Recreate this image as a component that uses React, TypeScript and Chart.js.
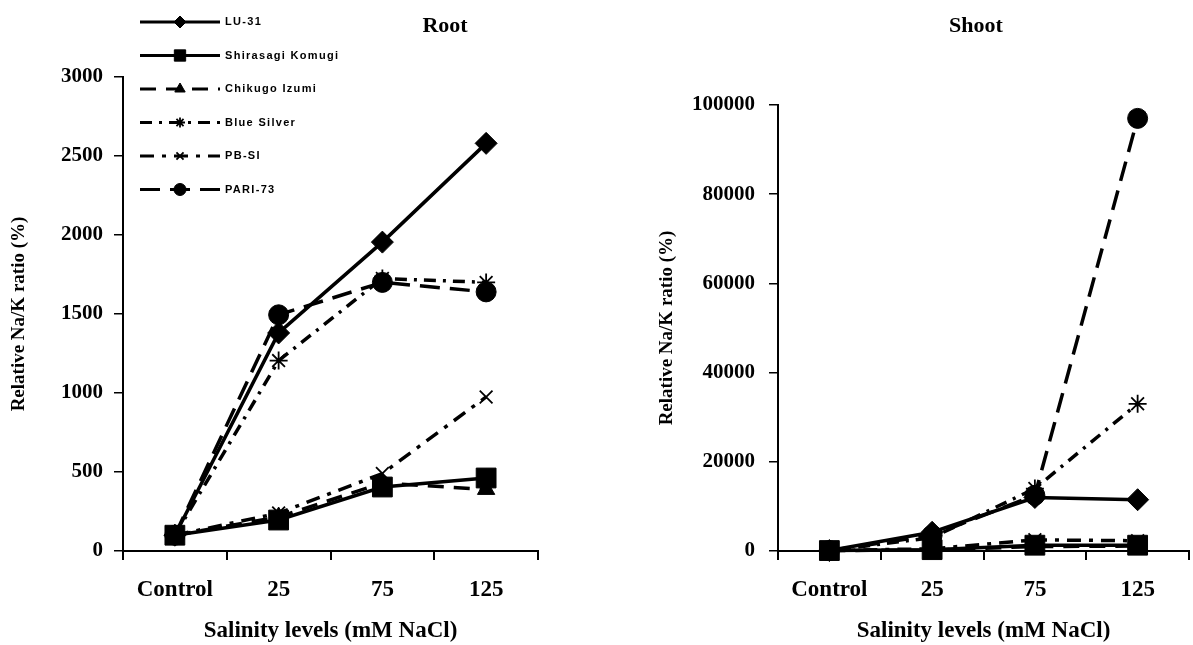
import React, { useEffect, useRef } from 'react';
import { Chart, registerables } from 'chart.js';
import { drawPoint } from 'chart.js/helpers';

Chart.register(...registerables);

// ---------- data ----------
const categories = ['Control', '25', '75', '125'];
const seriesNames = ['LU-31', 'Shirasagi Komugi', 'Chikugo Izumi', 'Blue Silver', 'PB-SI', 'PARI-73'];

const rootLU31 = [100, 1380, 1955, 2580];
const rootShirasagi = [100, 196, 405, 462];
const rootChikugo = [100, 215, 430, 390];
const rootBlueSilver = [100, 1205, 1725, 1700];
const rootPBSI = [100, 240, 490, 975];
const rootPARI73 = [100, 1495, 1700, 1640];

const shootLU31 = [100, 4200, 12000, 11500];
const shootShirasagi = [100, 300, 1300, 1300];
const shootChikugo = [100, 200, 1000, 1100];
const shootBlueSilver = [100, 3000, 14000, 33000];
const shootPBSI = [100, 500, 2500, 2300];
const shootPARI73 = [100, 3500, 12500, 97000];

const rootMax = 3000;
const rootStep = 500;
const shootMax = 100000;
const shootStep = 20000;

const xTitle = 'Salinity levels (mM NaCl)';
const yTitle = 'Relative Na/K ratio (%)';

// ---------- styles ----------
const pointStyles = ['rectRot', 'rect', 'triangle', 'star', 'crossRot', 'circle'];
const pointRadii = [11, 14, 10, 9, 9, 10];
const legendRadii = [6, 8, 6, 5, 5, 6];
const pointBorderWidths = [1, 1, 1, 1.8, 1.8, 1];
const dashes: number[][] = [[], [], [16, 10], [12, 7, 3, 7], [14, 8, 4, 8], [20, 10]];

const SERIF = '"Liberation Serif", "Times New Roman", serif';

function buildDatasets(values: number[][]) {
  return values.map((v, i) => ({
    label: seriesNames[i],
    data: v,
    borderColor: '#000',
    backgroundColor: '#000',
    borderWidth: 3.5,
    borderDash: dashes[i],
    pointStyle: pointStyles[i],
    pointRadius: pointRadii[i],
    pointBackgroundColor: '#000',
    pointBorderColor: '#000',
    pointBorderWidth: pointBorderWidths[i],
    tension: 0,
    fill: false,
    clip: false as any,
  }));
}

const legendPlugin = {
  id: 'sideLegend',
  afterDraw(chart: any) {
    const ctx: CanvasRenderingContext2D = chart.ctx;
    const x0 = 140;
    const x1 = 220;
    const y0 = 22;
    const dy = 33.5;
    seriesNames.forEach((name, i) => {
      const y = y0 + i * dy;
      ctx.save();
      ctx.strokeStyle = '#000';
      ctx.fillStyle = '#000';
      ctx.lineWidth = 3;
      ctx.setLineDash(dashes[i]);
      ctx.beginPath();
      ctx.moveTo(x0, y);
      ctx.lineTo(x1, y);
      ctx.stroke();
      ctx.setLineDash([]);
      ctx.lineWidth = pointBorderWidths[i];
      drawPoint(ctx, { pointStyle: pointStyles[i], radius: legendRadii[i], rotation: 0, borderWidth: pointBorderWidths[i] } as any, (x0 + x1) / 2, y);
      ctx.font = 'bold 11px "Liberation Sans", Arial, sans-serif';
      (ctx as any).letterSpacing = '1.3px';
      ctx.textBaseline = 'middle';
      ctx.textAlign = 'left';
      ctx.fillText(name, 225, y);
      ctx.restore();
    });
  },
};

type PanelProps = {
  values: number[][];
  max: number;
  step: number;
  width: number;
  padLeft: number;
  padTop: number;
  padRight: number;
  yWidth: number;
  yTickPad: number;
  legend: boolean;
};

function Panel(p: PanelProps) {
  const ref = useRef<HTMLCanvasElement | null>(null);
  useEffect(() => {
    if (!ref.current) return;
    const chart = new Chart(ref.current, {
      type: 'line',
      data: { labels: categories, datasets: buildDatasets(p.values) as any },
      plugins: p.legend ? [legendPlugin] : [],
      options: {
        animation: false,
        responsive: false,
        maintainAspectRatio: false,
        layout: { padding: { left: p.padLeft, top: p.padTop, right: p.padRight, bottom: 0 } },
        plugins: { legend: { display: false }, tooltip: { enabled: false }, title: { display: false } },
        scales: {
          x: {
            type: 'category',
            offset: true,
            grid: { display: true, offset: true, drawOnChartArea: false, drawTicks: true, tickLength: 9, color: '#000', lineWidth: 2 },
            border: { display: true, color: '#000', width: 2 },
            ticks: { color: '#000', padding: 16, font: { family: SERIF, weight: 'bold', size: 23 }, maxRotation: 0 },
            title: { display: true, text: xTitle, color: '#000', font: { family: SERIF, weight: 'bold', size: 23 }, padding: { top: 0, bottom: 0 } },
            afterFit: (s: any) => { s.height = 94; },
          },
          y: {
            min: 0,
            max: p.max,
            grid: { display: true, drawOnChartArea: false, drawTicks: true, tickLength: 9, color: '#000', lineWidth: 1.5 },
            border: { display: true, color: '#000', width: 2 },
            ticks: {
              stepSize: p.step,
              color: '#000',
              padding: p.yTickPad,
              font: { family: SERIF, weight: 'bold', size: 21 },
              callback: (v: any) => String(v),
            },
            title: { display: true, text: yTitle, color: '#000', font: { family: SERIF, weight: 'bold', size: 19 }, padding: { top: 8, bottom: 0 } },
            afterFit: (s: any) => { s.width = p.yWidth; },
          },
        },
      } as any,
    });
    return () => chart.destroy();
  }, []);
  return <canvas ref={ref} width={p.width} height={645} style={{ display: 'block', width: p.width, height: 645 }} />;
}

const titleStyle: React.CSSProperties = {
  position: 'absolute',
  top: 11,
  fontFamily: SERIF,
  fontWeight: 'bold',
  fontSize: 22,
  lineHeight: '28px',
  transform: 'translateX(-50%)',
  color: '#000',
  whiteSpace: 'nowrap',
};

export default function App() {
  return (
    <div style={{ position: 'absolute', left: 0, top: 0, width: 1193, height: 645, background: '#fff', overflow: 'hidden' }}>
      <div style={{ position: 'absolute', left: 0, top: 0 }}>
        <Panel
          values={[rootLU31, rootShirasagi, rootChikugo, rootBlueSilver, rootPBSI, rootPARI73]}
          max={rootMax}
          step={rootStep}
          width={600}
          padLeft={0}
          padTop={77}
          padRight={62}
          yWidth={123}
          yTickPad={11}
          legend={true}
        />
      </div>
      <div style={{ position: 'absolute', left: 600, top: 0, width: 604 }}>
        <Panel
          values={[shootLU31, shootShirasagi, shootChikugo, shootBlueSilver, shootPBSI, shootPARI73]}
          max={shootMax}
          step={shootStep}
          width={604}
          padLeft={48}
          padTop={105}
          padRight={0}
          yWidth={130}
          yTickPad={14}
          legend={false}
        />
      </div>
      <div style={{ ...titleStyle, left: 445 }}>Root</div>
      <div style={{ ...titleStyle, left: 976 }}>Shoot</div>
    </div>
  );
}
